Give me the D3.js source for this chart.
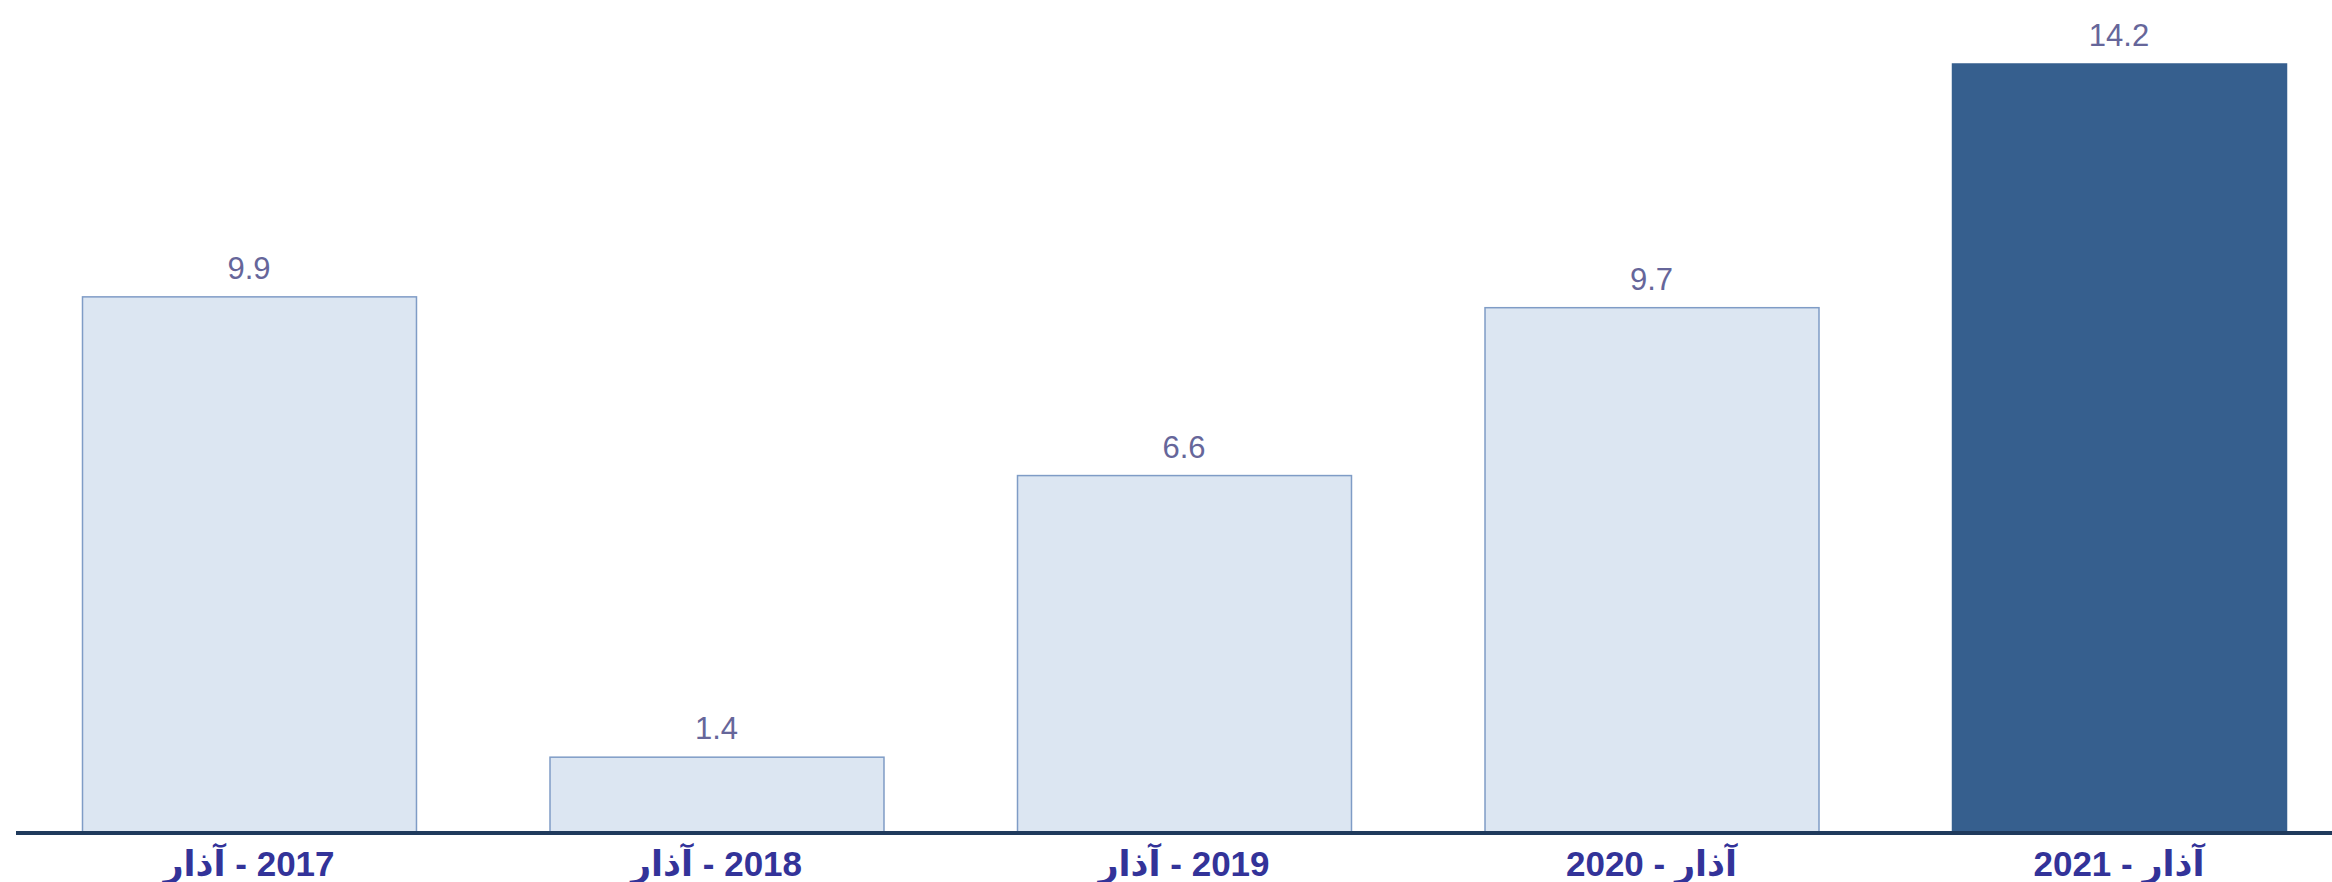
<!DOCTYPE html>
<html>
<head>
<meta charset="utf-8">
<script src="https://cdn.jsdelivr.net/npm/d3@7"></script>
<style>
  body { margin: 0; background: #fff; }
  svg { display: block; }
</style>
</head>
<body>
<div id="chart"></div>
<script>
const years = ['2017', '2018', '2019', '2020', '2021'];
const values = [9.9, 1.4, 6.6, 9.7, 14.2];
// visual order differs in the source: first three put the month on the left
const tickLabels = ['آذار\u200E - 2017', 'آذار\u200E - 2018', 'آذار\u200E - 2019', '2020 - آذار', '2021 - آذار'];

const width = 2332;
const height = 882;
const font = '"Liberation Sans", Arial, "DejaVu Sans", sans-serif';

const x = d3.scaleBand()
    .domain(years)
    .range([82, 2286])
    .paddingInner(0.2856)
    .paddingOuter(0);

const y = d3.scaleLinear()
    .domain([0, 14.2])
    .range([833, 64]);

const svg = d3.select('#chart')
    .append('svg')
    .attr('width', width)
    .attr('height', height)
    .attr('viewBox', `0,0,${width},${height}`);

// bars
svg.append('g')
    .selectAll('rect')
    .data(values)
    .join('rect')
    .attr('x', (d, i) => x(years[i]) + 0.5)
    .attr('y', d => y(d))
    .attr('width', x.bandwidth())
    .attr('height', d => y(0) - y(d))
    .style('fill', (d, i) => i === values.length - 1 ? '#365f8e' : '#dce6f2')
    .style('stroke', (d, i) => i === values.length - 1 ? '#365f8e' : '#7f9cc6')
    .style('stroke-width', 1.5);

// value labels
svg.append('g')
    .selectAll('text')
    .data(values)
    .join('text')
    .attr('x', (d, i) => x(years[i]) + x.bandwidth() / 2)
    .attr('y', d => y(d) - 18)
    .attr('text-anchor', 'middle')
    .style('font-family', font)
    .style('font-size', '31px')
    .style('fill', '#66669a')
    .text(d => d.toFixed(1));

// x axis
const axis = svg.append('g')
    .attr('transform', `translate(0,${y(0)})`)
    .call(d3.axisBottom(x).tickSize(0).tickPadding(0).tickFormat((d, i) => tickLabels[i]));

axis.select('.domain').remove();
axis.append('line')
    .attr('x1', 16)
    .attr('x2', width)
    .attr('y1', 0)
    .attr('y2', 0)
    .style('stroke', '#1f3a5c')
    .style('stroke-width', 4);

axis.selectAll('.tick text')
    .attr('dy', null)
    .attr('y', 43)
    .style('font-family', font)
    .style('font-size', '35px')
    .style('font-weight', 'bold')
    .style('fill', '#333399');
</script>
</body>
</html>
